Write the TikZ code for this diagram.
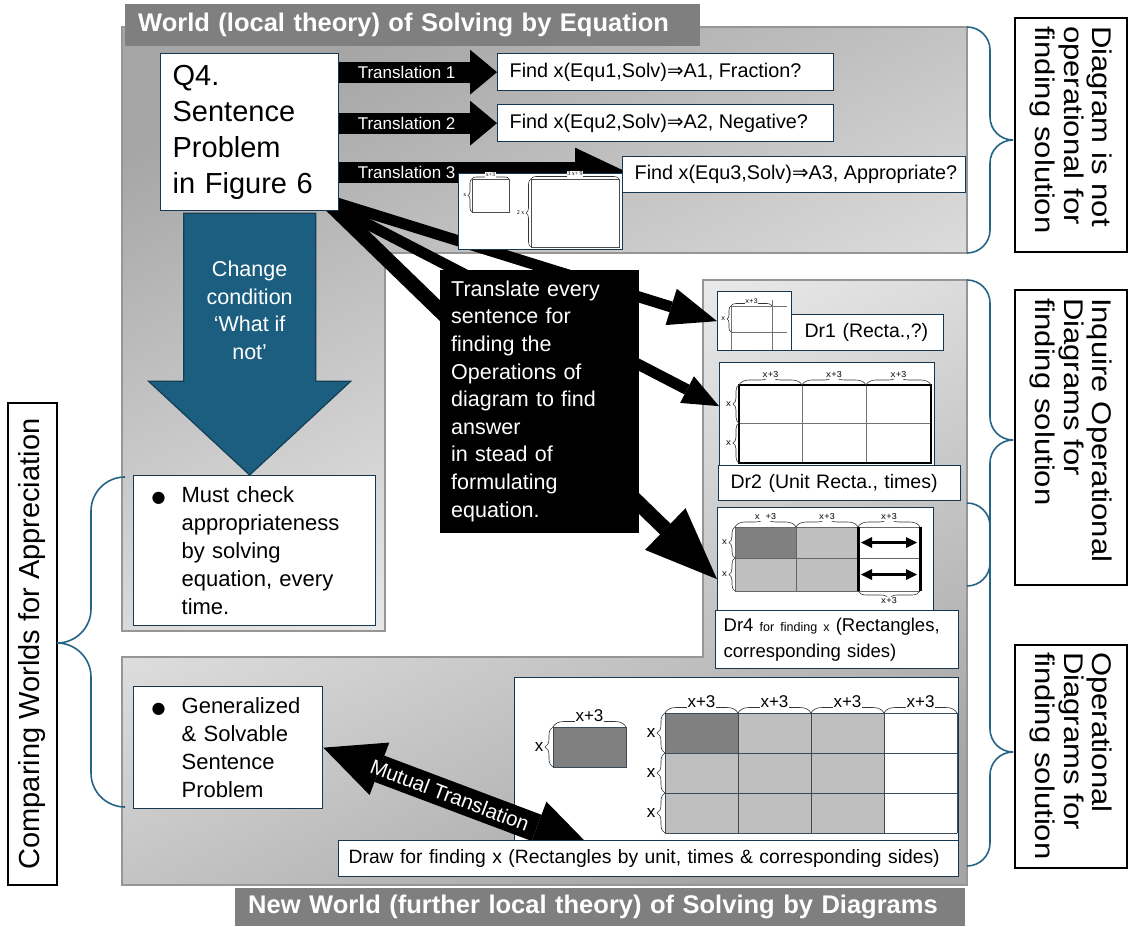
\documentclass[tikz,border=0pt]{standalone}
\usepackage{fontspec}
\setmainfont{Liberation Sans}
\newfontfamily\symfont{DejaVu Sans}
\newfontfamily\figmono{Liberation Mono}
\newfontfamily\figserif{Liberation Serif}
\newfontfamily\widesans[FakeStretch=1.15]{Liberation Sans}
\usetikzlibrary{calc,arrows.meta,decorations.pathreplacing}
\pgfdeclarelayer{back}
\pgfdeclarelayer{mid}
\pgfdeclarelayer{front}
\pgfsetlayers{back,mid,main,front}

\definecolor{boxln}{RGB}{23,55,80}
\definecolor{bluefill}{RGB}{27,94,128}
\definecolor{blueedge}{RGB}{18,62,86}
\definecolor{bracecol}{RGB}{38,100,135}
\definecolor{titlegray}{RGB}{127,127,127}
\definecolor{celldark}{RGB}{128,128,128}
\definecolor{celllight}{RGB}{191,191,191}
\definecolor{gridln}{RGB}{60,75,90}
\definecolor{paneledge}{RGB}{150,150,150}
\definecolor{topdark}{RGB}{165,165,165}
\definecolor{toplight}{RGB}{248,248,248}
\definecolor{botlight}{RGB}{250,250,250}
\definecolor{botdark}{RGB}{165,165,165}

\newcommand\fs[2]{\fontsize{#1}{#2}\selectfont}
\newcommand\impl{{\symfont ⇒}}
\newcommand\bul{\makebox[30pt][l]{\symfont\fs{16}{16}●}}
\newcommand\ind{\hspace*{30pt}}
\newcommand\oneline[2]{\makebox[#1pt][l]{#2}}

\tikzset{
  box/.style={draw=boxln, fill=white, line width=1.3pt, inner sep=0pt, anchor=north west, align=left},
  rbox/.style={draw=black, fill=white, line width=1.2pt, inner sep=0pt, align=left, font=\widesans\fs{27}{28.5}},
  figbox/.style={draw=boxln, fill=white, line width=1.3pt, inner sep=0pt, anchor=north west},
  panel/.style={draw=paneledge, line width=1.2pt},
  titlebar/.style={fill=titlegray, inner sep=0pt, anchor=north west, align=left, text=white, font=\bfseries\fs{25.5}{25.5}},
  thickarrow/.style={draw=black, line cap=butt},
  brc/.style={draw=bracecol, line width=1.6pt},
  gridline/.style={draw=gridln, line width=0.8pt},
  figbrace/.style={draw=black!80, line width=0.6pt, decorate},
  lbl/.style={fill=white, inner sep=0.6pt},
}

% curly braces built from rounded corners
\newcommand\rightbrace[5]{% x of ends, top, bottom, tip, radius
  \draw[brc, rounded corners=#5pt] (#1,#2) -- (#1+#5,#2) -- (#1+#5,#4) -- (#1+2*#5,#4)
    (#1+2*#5,#4) -- (#1+#5,#4) -- (#1+#5,#3) -- (#1,#3);}
\newcommand\leftbrace[5]{%
  \draw[brc, rounded corners=#5pt] (#1,#2) -- (#1-#5,#2) -- (#1-#5,#4) -- (#1-2*#5,#4)
    (#1-2*#5,#4) -- (#1-#5,#4) -- (#1-#5,#3) -- (#1,#3);}
% small braces of the rectangle sketches
\newcommand\topbrace[6]{% xa, xb, y, amplitude, font, label
  \draw[figbrace, decoration={brace, amplitude=#4pt}] (#1,#3) -- (#2,#3);
  \node[lbl, font=#5] at ({(#1+#2)/2}, {#3-#4}) {#6};}
\newcommand\sidebrace[6]{% x, ytop, ybottom, amplitude, font, label
  \draw[figbrace, decoration={brace, amplitude=#4pt}] (#1,#3) -- (#1,#2);
  \node[font=#5, anchor=east, inner sep=0.5pt] at ({#1-#4-1}, {(#2+#3)/2}) {#6};}
\newcommand\lowbrace[6]{%
  \draw[figbrace, decoration={brace, amplitude=#4pt}] (#2,#3) -- (#1,#3);
  \node[lbl, font=#5] at ({(#1+#2)/2}, {#3+#4+2}) {#6};}

\begin{document}
\begin{tikzpicture}[x=1pt, y=-1pt]
\useasboundingbox (0,0) rectangle (1129,926);

% ---------- the two worlds ----------
\begin{pgfonlayer}{back}
  \fill[white] (0,0) rectangle (1129,926);
  \shade[top color=topdark, bottom color=toplight, shading angle=25]
    (122,27) -- (967,27) -- (967,253) -- (385,253) -- (385,631) -- (122,631) -- cycle;
  \draw[panel] (122,27) -- (967,27) -- (967,253) -- (385,253) -- (385,631) -- (122,631) -- cycle;
  \shade[top color=botlight, bottom color=botdark, shading angle=25]
    (703,280) -- (967,280) -- (967,885) -- (122,885) -- (122,657) -- (703,657) -- cycle;
  \draw[panel] (703,280) -- (967,280) -- (967,885) -- (122,885) -- (122,657) -- (703,657) -- cycle;
  \node[titlebar, minimum width=575pt, minimum height=42pt, text width=549pt] (ttop) at (125,4)
    {World (local theory) of Solving by Equation};
  \node[titlebar, minimum width=730pt, minimum height=38pt, text width=704pt] (tbot) at (235,888)
    {New World (further local theory) of Solving by Diagrams};
\end{pgfonlayer}

% ---------- world of equations ----------
\node[box, minimum width=178pt, minimum height=157pt, text width=154pt, font=\fs{29}{36}] (q4) at (160,53)
  {Q4.\\Sentence\\Problem\\in Figure 6};
\node[box, minimum width=336pt, minimum height=37pt, font=\fs{19.8}{22}] (f1) at (497,53)
  {\oneline{312}{Find x(Equ1,Solv)\impl A1, Fraction?}};
\node[box, minimum width=336pt, minimum height=37pt, font=\fs{19.8}{22}] (f2) at (497,104)
  {\oneline{312}{Find x(Equ2,Solv)\impl A2, Negative?}};
\node[figbox, minimum width=164pt, minimum height=76pt] (eqfig) at (458,173) {};
\node[box, minimum width=343pt, minimum height=36pt, font=\fs{19.8}{22}] (f3) at (622,156)
  {\oneline{319}{Find x(Equ3,Solv)\impl A3, Appropriate?}};

% sketch of the equation rectangles
\draw[draw=black!70, line width=0.7pt] (472,179) rectangle (509,212);
\draw[draw=black!70, line width=0.7pt] (531,179) rectangle (619,247);
\topbrace{472}{509}{179}{4}{\figserif\fs{6}{6}}{x+3}
\topbrace{531}{619}{179}{5}{\figserif\fs{6}{6}}{3 x+ 9}
\sidebrace{472}{179}{212}{4}{\figserif\fs{6}{6}}{x}
\sidebrace{531}{179}{247}{5}{\figserif\fs{6}{6}}{2 x}

\begin{pgfonlayer}{mid}
  \draw[thickarrow, line width=21pt, -{Triangle[length=27pt,width=45pt,line width=0pt]}]
    (q4.east |- f1.west) -- (f1.west)
    node[pos=0, anchor=west, xshift=8pt, inner sep=0pt, text=white, font=\fs{17}{17}] (tl1) {Translation 1};
  \draw[thickarrow, line width=21pt, -{Triangle[length=27pt,width=45pt,line width=0pt]}]
    (q4.east |- f2.west) -- (f2.west)
    node[pos=0, anchor=west, xshift=8pt, inner sep=0pt, text=white, font=\fs{17}{17}] (tl2) {Translation 2};
  \draw[thickarrow, line width=21pt, -{Triangle[length=53pt,width=50pt,line width=0pt]}]
    ($(q4.east |- f3.west)+(0,-2)$) -- ($(f3.west)+(6,-2)$)
    node[pos=0, anchor=west, xshift=8pt, inner sep=0pt, text=white, font=\fs{17}{17}] (tl3) {Translation 3};
\end{pgfonlayer}

% ---------- what if not ----------
\node[box, minimum width=242pt, minimum height=150pt, text width=206pt, font=\fs{22}{27.8}] (mc) at (133,475)
  {\bul Must check\\\ind appropriateness\\\ind by solving\\\ind equation, every\\\ind time.};
\filldraw[fill=bluefill, draw=blueedge, line width=1.2pt]
  ($(q4.south)+(-66,2)$) -- ($(q4.south)+(66,2)$) -- ($(q4.south)+(66,170)$) -- ($(q4.south)+(101,170)$)
  -- (q4.south |- mc.north) -- ($(q4.south)+(-101,170)$) -- ($(q4.south)+(-66,170)$) -- cycle;
\node[text=white, align=center, font=\fs{21.5}{27.4}] (wn) at ($(q4.south)+(0,99)$)
  {Change\\condition\\‘What if\\not’};

% ---------- diagrams of the new world ----------
\node[figbox, minimum width=74pt, minimum height=59pt] (dr1img) at (717,291) {};
\node[box, minimum width=152pt, minimum height=36pt, text width=126pt, font=\fs{19.5}{22}] (dr1lbl) at (791,314)
  {Dr1 (Recta.,?)};
\node[figbox, minimum width=215pt, minimum height=103pt] (dr2img) at (719,362) {};
\node[box, minimum width=242pt, minimum height=35pt, text width=218pt, font=\fs{19.5}{22}] (dr2lbl) at (718,465)
  {Dr2 (Unit Recta., times)};
\node[figbox, minimum width=216pt, minimum height=103pt] (dr4img) at (717,507) {};
\node[box, minimum width=243pt, minimum height=58pt, text width=227pt, font=\fs{18.5}{26}] (dr4lbl) at (715,610)
  {Dr4 {\fs{12.5}{13}for finding x} (Rectangles,\\corresponding sides)};

% Dr1 sketch
\draw[draw=black!55, line width=0.6pt] (731,306) -- (787,306) (731,332) -- (787,332)
  (731,306) -- (731,350) (772,300) -- (772,350);
\topbrace{731}{772}{306}{5}{\figmono\fs{7}{7}}{x+3}
\sidebrace{731}{306}{332}{4}{\figmono\fs{7}{7}}{x}

% Dr2 sketch
\foreach \xx in {802,866} \draw[draw=black!55, line width=0.7pt] (\xx,385) -- (\xx,463);
\draw[draw=black!55, line width=0.7pt] (739,423) -- (931,423);
\draw[draw=black, line width=1.2pt] (739,385) rectangle (931,463);
\topbrace{739}{802}{385}{10}{\figmono\fs{9}{9}}{x+3}
\topbrace{802}{866}{385}{10}{\figmono\fs{9}{9}}{x+3}
\topbrace{866}{931}{385}{10}{\figmono\fs{9}{9}}{x+3}
\sidebrace{739}{385}{423}{6}{\figmono\fs{9}{9}}{x}
\sidebrace{739}{423}{463}{6}{\figmono\fs{9}{9}}{x}

% Dr4 sketch
\fill[celldark] (735,527) rectangle (796,558);
\fill[celllight] (796,527) rectangle (858,558) (735,558) rectangle (858,591);
\draw[draw=black!60, line width=0.7pt] (735,527) -- (920,527) (735,558) -- (920,558) (735,591) -- (920,591)
  (735,527) -- (735,591) (796,527) -- (796,591);
\draw[line width=3pt] (858,527) -- (858,591) (920,527) -- (920,591);
\draw[line width=2.6pt, {Triangle[length=11pt,width=11pt,line width=0pt]}-{Triangle[length=11pt,width=11pt,line width=0pt]}]
  (861,542.5) -- (917,542.5);
\draw[line width=2.6pt, {Triangle[length=11pt,width=11pt,line width=0pt]}-{Triangle[length=11pt,width=11pt,line width=0pt]}]
  (861,574.5) -- (917,574.5);
\topbrace{735}{796}{527}{10}{\figmono\fs{9}{9}}{x +3}
\topbrace{796}{858}{527}{10}{\figmono\fs{9}{9}}{x+3}
\topbrace{858}{920}{527}{10}{\figmono\fs{9}{9}}{x+3}
\sidebrace{735}{527}{558}{6}{\figmono\fs{9}{9}}{x}
\sidebrace{735}{558}{591}{6}{\figmono\fs{9}{9}}{x}
\lowbrace{858}{920}{591}{8}{\figmono\fs{9}{9}}{x+3}

% translating sentences into diagram operations
\begin{pgfonlayer}{mid}
  \draw[thickarrow, line width=11pt, -{Triangle[length=48pt,width=38pt,line width=0pt]}]
    ($(q4.south east)+(-8,-10)$) -- (dr1img.west);
  \draw[thickarrow, line width=11pt, -{Triangle[length=36pt,width=30pt,line width=0pt]}]
    ($(q4.south east)+(-8,-6)$) -- ($(dr2img.west)+(0,-8)$);
  \draw[thickarrow, line width=15pt, -{Triangle[length=72pt,width=58pt,line width=0pt]}]
    ($(q4.south east)+(-8,-6)$) -- ($(dr4img.west)+(0,20)$);
\end{pgfonlayer}
\node[draw=black, fill=black, inner sep=0pt, anchor=north west, minimum width=198pt, minimum height=262pt,
  text width=176pt, align=left, text=white, font=\fs{21.5}{27.6}] (tr) at (440,270)
  {Translate every\\sentence for\\finding the\\Operations of\\diagram to find\\answer\\in stead of\\formulating\\equation.};

% ---------- generalized problem ----------
\node[box, minimum width=189pt, minimum height=122pt, text width=153pt, font=\fs{22}{28}] (gen) at (133,686)
  {\bul Generalized\\\ind \& Solvable\\\ind Sentence\\\ind Problem};
\node[figbox, minimum width=444pt, minimum height=165pt] (bigfig) at (514,677) {};

% unit rectangle
\filldraw[fill=celldark, draw=gridln, line width=0.8pt] (553,727) rectangle (626,767);
\topbrace{553}{626}{727}{11}{\fs{17}{17}}{x+3}
\sidebrace{553}{727}{767}{8}{\fs{17}{17}}{x}
% rectangle made of units
\fill[celllight] (665,713) rectangle (884,833);
\fill[celldark] (665,713) rectangle (738,753);
\foreach \xx in {665,738,811,884,957} \draw[gridline] (\xx,713) -- (\xx,833);
\foreach \yy in {713,753,793,833} \draw[gridline] (665,\yy) -- (957,\yy);
\foreach \xx in {665,738,811,884} {\topbrace{\xx}{\xx+73}{713}{11}{\fs{17}{17}}{x+3}}
\foreach \yy in {713,753,793} {\sidebrace{665}{\yy}{\yy+40}{8}{\fs{17}{17}}{x}}

% the label box lies over the end of the mutual translation arrow
\begin{pgfonlayer}{front}
\node[box, minimum width=620pt, minimum height=36pt, text width=600pt, font=\fs{19.3}{22}] (drawlbl) at (338,840)
  {Draw for finding x (Rectangles by unit, times \& corresponding sides)};
\end{pgfonlayer}
\coordinate (mtip) at ($(drawlbl.north west)!0.41!(drawlbl.north east)+(0,9)$);
\draw[thickarrow, line width=28pt,
  {Triangle[length=60pt,width=56pt,line width=0pt]}-{Triangle[length=60pt,width=56pt,line width=0pt]}]
  (gen.east) -- (mtip)
  node[pos=0.47, sloped, inner sep=0pt, text=white, font=\fs{20.5}{20.5}] (mtl) {Mutual Translation};

% ---------- side comments ----------
\node[rbox, rotate=-90, minimum width=234pt, minimum height=112pt, text width=218pt] (rb1) at (1071,135)
  {Diagram is not\\operational for\\finding solution};
\node[rbox, rotate=-90, minimum width=295pt, minimum height=112pt, text width=279pt] (rb2) at (1071,437.5)
  {Inquire Operational\\Diagrams for\\finding solution};
\node[rbox, rotate=-90, minimum width=223pt, minimum height=112pt, text width=209pt] (rb3) at (1071,756.5)
  {Operational\\Diagrams for\\finding solution};
\node[rbox, rotate=90, minimum width=482pt, minimum height=49pt, align=center, font=\fs{29}{32}] (lb) at (32.5,644)
  {Comparing Worlds for Appreciation};

\rightbrace{967}{27}{253}{140}{23}
\rightbrace{967}{280}{586}{440}{23}
\rightbrace{967}{503}{866}{752}{23}
\leftbrace{125}{477}{807}{643}{34}
\end{tikzpicture}
\end{document}
